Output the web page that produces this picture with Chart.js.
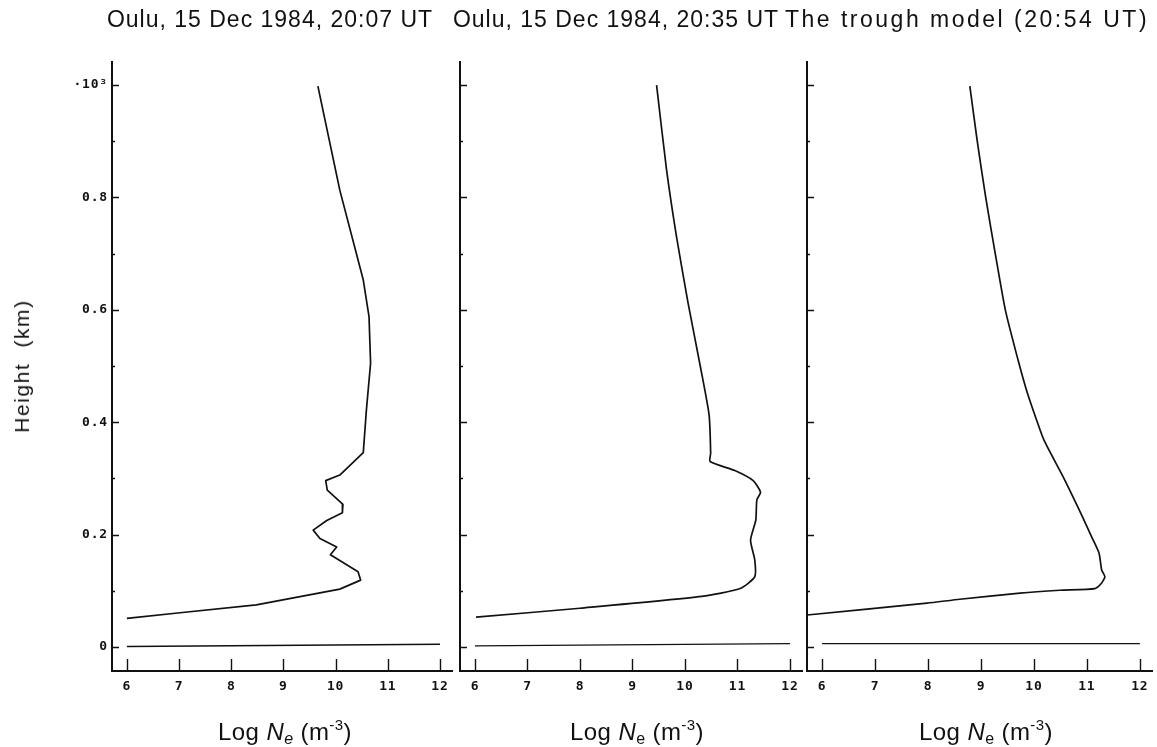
<!DOCTYPE html>
<html>
<head>
<meta charset="utf-8">
<script src="https://cdn.jsdelivr.net/npm/chart.js@4.4.1/dist/chart.umd.min.js"></script>
<style>
  html, body { margin: 0; padding: 0; background: #fff; }
  #wrap { position: relative; width: 1157px; height: 747px; overflow: hidden;
          font-family: 'Liberation Sans', Arial, sans-serif; color: #111; }
  #wrap canvas { position: absolute; top: 0; }
  .txt { position: absolute; white-space: nowrap; transform: translate(-50%, -50%); }
  .title { font-size: 23px; letter-spacing: 1px; top: 19px; }
  .title.wide { letter-spacing: 2.5px; }
  .xlab { font-size: 24px; letter-spacing: 0.4px; top: 732px; }
  .xlab sub { font-size: 16px; vertical-align: -4px; line-height: 0; }
  .xlab sup { font-size: 15px; vertical-align: 10px; line-height: 0; }
  .ylab { font-size: 21px; letter-spacing: 1.6px; left: 22px; top: 366px;
          transform: translate(-50%, -50%) rotate(-90deg); }
</style>
</head>
<body>
<div id="wrap">
  <canvas id="p1"></canvas>
  <canvas id="p2"></canvas>
  <canvas id="p3"></canvas>
  <div class="txt title" style="left:270px">Oulu, 15 Dec 1984, 20:07 UT</div>
  <div class="txt title" style="left:616px">Oulu, 15 Dec 1984, 20:35 UT</div>
  <div class="txt title wide" style="left:967px">The trough model (20:54 UT)</div>
  <div class="txt ylab">Height&nbsp; (km)</div>
  <div class="txt xlab" style="left:285px">Log <i>N</i><sub><i>e</i></sub> (m<sup>-3</sup>)</div>
  <div class="txt xlab" style="left:637px">Log <i>N</i><sub>e</sub> (m<sup>-3</sup>)</div>
  <div class="txt xlab" style="left:986px">Log <i>N</i><sub>e</sub> (m<sup>-3</sup>)</div>
</div>
<script>
// Electron density profiles: log10 Ne (m^-3) against height (units of 10^3 km)

// Oulu, 15 Dec 1984, 20:07 UT
const logNe1 = [9.66, 10.08, 10.53, 10.64, 10.67, 10.59, 10.53, 10.08, 9.81, 9.84, 10.14, 10.13,
                9.83, 9.57, 9.70, 10.02, 9.90, 10.43, 10.48, 10.08, 8.48, 7.02, 6.00];
const height1 = [0.998, 0.813, 0.653, 0.588, 0.505, 0.422, 0.346, 0.306, 0.296, 0.279, 0.254, 0.239,
                 0.225, 0.208, 0.193, 0.178, 0.164, 0.134, 0.119, 0.103, 0.075, 0.061, 0.051];

// Oulu, 15 Dec 1984, 20:35 UT
const logNe2 = [9.46, 9.65, 9.84, 10.06, 10.30, 10.46, 10.49, 10.48, 10.95, 11.30, 11.44, 11.37,
                11.35, 11.25, 11.33, 11.33, 11.05, 10.32, 8.00, 6.02];
const height2 = [1.000, 0.849, 0.730, 0.612, 0.496, 0.413, 0.345, 0.330, 0.314, 0.296, 0.275, 0.262,
                 0.226, 0.190, 0.155, 0.125, 0.104, 0.090, 0.069, 0.053];

// Trough model, 20:54 UT
const logNe3 = [8.79, 8.93, 9.09, 9.27, 9.46, 9.70, 9.86, 10.05, 10.19, 10.55, 10.90, 11.09,
                11.23, 11.28, 11.34, 11.28, 11.15, 10.49, 9.74, 8.60, 7.98, 5.72];
const height3 = [0.998, 0.900, 0.800, 0.700, 0.600, 0.511, 0.457, 0.404, 0.368, 0.303, 0.235, 0.196,
                 0.167, 0.137, 0.125, 0.114, 0.104, 0.101, 0.096, 0.085, 0.078, 0.057];

// Zero-height reference line in each panel
const baseNe = [6, 12];
const baseH1 = [0.001, 0.005];
const baseH2 = [0.002, 0.006];
const baseH3 = [0.006, 0.006];

// Axis ticks
const xTickVals = [6, 7, 8, 9, 10, 11, 12];
const yTickVals = [0, 0.1, 0.2, 0.3, 0.4, 0.5, 0.6, 0.7, 0.8, 0.9, 1.0];
const yTickText = { 0: '0', 0.2: '0.2', 0.4: '0.4', 0.6: '0.6', 0.8: '0.8', 1: '\u00b710\u00b3' };

const INK = '#111';

const toPoints = (xs, ys) => xs.map((v, i) => ({ x: v, y: ys[i] }));

// Typewriter-like spacing for the tick numerals
const spacedText = {
  id: 'spacedText',
  beforeDraw(chart) { chart.ctx.letterSpacing = '0.8px'; }
};

// Ticks drawn inside the frame: short ones on the height axis, upright ones on the density axis
const innerTicks = {
  id: 'innerTicks',
  afterDraw(chart) {
    const { ctx, chartArea, scales } = chart;
    ctx.save();
    ctx.strokeStyle = INK;
    ctx.lineWidth = 1.4;
    ctx.beginPath();
    yTickVals.forEach((v, i) => {
      const py = Math.round(scales.y.getPixelForValue(v)) + 0.5;
      const len = i % 2 === 0 ? 7 : 3;
      ctx.moveTo(chartArea.left, py);
      ctx.lineTo(chartArea.left + len, py);
    });
    xTickVals.forEach(v => {
      const px = Math.round(scales.x.getPixelForValue(v)) + 0.5;
      ctx.moveTo(px, chartArea.bottom - 1);
      ctx.lineTo(px, chartArea.bottom - 12);
    });
    ctx.stroke();
    ctx.restore();
  }
};

function makePanel(id, canvasLeft, canvasWidth, axisWidth, padRight, prof, base, showY, tension) {
  const canvas = document.getElementById(id);
  canvas.style.left = canvasLeft + 'px';
  canvas.style.width = canvasWidth + 'px';
  canvas.style.height = '747px';
  canvas.width = canvasWidth;
  canvas.height = 747;
  const tickFont = { family: 'DejaVu Sans Mono', size: 13, weight: 'bold' };
  return new Chart(canvas, {
    type: 'scatter',
    data: {
      datasets: [
        { data: prof, showLine: true, borderColor: INK, borderWidth: 1.7, pointRadius: 0,
          tension: tension, borderJoinStyle: 'round', fill: false },
        { data: base, showLine: true, borderColor: INK, borderWidth: 1.4, pointRadius: 0, fill: false }
      ]
    },
    options: {
      responsive: false,
      animation: false,
      devicePixelRatio: 1,
      layout: { padding: { top: 62, right: padRight, left: 0, bottom: 0 } },
      plugins: { legend: { display: false }, tooltip: { enabled: false }, title: { display: false } },
      scales: {
        x: {
          type: 'linear', min: 5.715, max: 12.23,
          afterBuildTicks: s => { s.ticks = xTickVals.map(v => ({ value: v })); },
          afterFit: s => { s.height = 76; },
          grid: { display: false, drawTicks: false },
          border: { display: true, color: INK, width: 2 },
          ticks: { color: INK, padding: 8, maxRotation: 0, autoSkip: false,
                   font: tickFont, callback: v => String(v) }
        },
        y: {
          type: 'linear', min: -0.0427, max: 1.041,
          afterBuildTicks: s => { s.ticks = yTickVals.map(v => ({ value: v })); },
          afterFit: s => { s.width = axisWidth; },
          grid: { display: false, drawTicks: false },
          border: { display: true, color: INK, width: 2 },
          ticks: { display: showY, color: INK, padding: 4, autoSkip: false,
                   font: tickFont,
                   callback: v => {
                     const k = Math.round(v * 10) / 10;
                     return yTickText[k] !== undefined ? yTickText[k] : '';
                   } }
        }
      }
    },
    plugins: [spacedText, innerTicks]
  });
}

makePanel('p1', 0, 460, 112, 8, toPoints(logNe1, height1), toPoints(baseNe, baseH1), true, 0);
makePanel('p2', 400, 410, 60, 8, toPoints(logNe2, height2), toPoints(baseNe, baseH2), false, 0.2);
makePanel('p3', 760, 397, 47, 5, toPoints(logNe3, height3), toPoints(baseNe, baseH3), false, 0.2);
</script>
</body>
</html>
